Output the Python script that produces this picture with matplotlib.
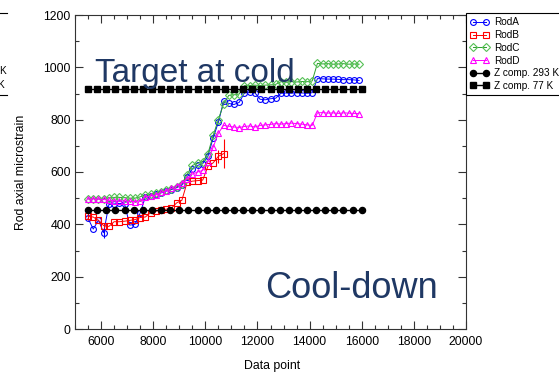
import matplotlib

matplotlib.use("Agg")
import matplotlib.pyplot as plt
from matplotlib.lines import Line2D
from matplotlib.ticker import MultipleLocator

plt.rcParams["font.family"] = ["Liberation Sans", "DejaVu Sans"]

# sample index shared by the four rods
data_x = [5500, 5700, 5900, 6100, 6300, 6500, 6700, 6900, 7100, 7300,
          7500, 7700, 7900, 8100, 8300, 8500, 8700, 8900, 9100, 9300,
          9500, 9700, 9900, 10100, 10300, 10500, 10700, 10900, 11100, 11300,
          11500, 11700, 11900, 12100, 12300, 12500, 12700, 12900, 13100, 13300,
          13500, 13700, 13900, 14100, 14300, 14500, 14700, 14900, 15100, 15300,
          15500, 15700, 15900]

rod_a = [423, 382, 416, 368, 476, 478, 480, 478, 397, 400,
         443, 505, 510, 516, 520, 527, 533, 540, 550, 580,
         612, 625, 632, 660, 730, 790, 870, 862, 858, 866,
         902, 905, 903, 878, 876, 880, 882, 901, 902, 901,
         903, 902, 901, 903, 957, 956, 955, 955, 954, 953,
         953, 952, 950]
rod_a_err = [0, 0, 0, 20, 0, 0, 0, 0, 0, 0,
             0, 0, 0, 0, 0, 0, 0, 0, 0, 0,
             0, 0, 0, 0, 0, 0, 0, 0, 0, 0,
             0, 0, 0, 0, 0, 0, 0, 0, 0, 0,
             0, 0, 0, 0, 0, 0, 0, 0, 0, 0,
             0, 0, 0]

# RodB stops reporting after ~10700
rod_b = [430, 428, 415, 395, 392, 410, 410, 412, 415, 418,
         426, 428, 445, 450, 455, 458, 462, 482, 492, 560,
         565, 567, 569, 622, 635, 660, 670]
rod_b_err = [12, 0, 0, 10, 0, 0, 0, 0, 0, 0,
             0, 0, 0, 0, 0, 0, 0, 0, 0, 0,
             0, 0, 0, 0, 0, 25, 55]

rod_c = [497, 498, 497, 498, 502, 503, 503, 502, 500, 500,
         505, 512, 515, 520, 525, 530, 535, 542, 555, 590,
         625, 633, 640, 670, 740, 800, 860, 893, 895, 898,
         930, 930, 932, 930, 932, 933, 935, 945, 943, 945,
         944, 946, 945, 948, 1015, 1013, 1014, 1012, 1013, 1014,
         1012, 1013, 1012]

rod_d = [497, 497, 496, 495, 492, 490, 489, 490, 488, 487,
         490, 505, 508, 512, 522, 528, 538, 548, 558, 575,
         592, 600, 606, 640, 695, 748, 778, 775, 772, 770,
         774, 776, 772, 778, 780, 782, 785, 783, 785, 787,
         785, 783, 780, 778, 826, 827, 825, 826, 824, 826,
         825, 824, 823]

# Z-component reference levels
z_x = [5500, 5850, 6200, 6550, 6900, 7250, 7600, 7950, 8300, 8650,
       9000, 9350, 9700, 10050, 10400, 10750, 11100, 11450, 11800, 12150,
       12500, 12850, 13200, 13550, 13900, 14250, 14600, 14950, 15300, 15650,
       16000]
z_293k = 455
z_77k = 917

navy = "#1f3864"

fig = plt.figure(figsize=(5.59, 3.72), dpi=100)
ax = fig.add_axes([75 / 559, 1 - 329 / 372, 391 / 559, 314 / 372])

mk = dict(markersize=4.2, markeredgewidth=0.8, fillstyle="none", linewidth=0.7)
ax.plot(data_x, rod_a, color="#0000ff", marker="o", label="RodA", **mk)
ax.plot(data_x[:len(rod_b)], rod_b, color="#ff0000", marker="s",
        label="RodB", **mk)
ax.plot(data_x, rod_c, color="#2ca02c", marker="D", markeredgecolor="#55c055",
        label="RodC", **dict(mk, markersize=3.8))
ax.plot(data_x, rod_d, color="#ff00ff", marker="^", label="RodD", **mk)

# error bars only where the readout flagged one
ax.errorbar(data_x, rod_a, yerr=rod_a_err, fmt="none", ecolor="#0000ff",
            elinewidth=0.8, capsize=0)
ax.errorbar(data_x[:len(rod_b)], rod_b, yerr=rod_b_err, fmt="none",
            ecolor="#ff0000", elinewidth=0.8, capsize=0)

ax.plot(z_x, [z_293k] * len(z_x), color="black", marker="o", markersize=4.4,
        linewidth=1.0, label="Z comp. 293 K")
ax.plot(z_x, [z_77k] * len(z_x), color="black", marker="s", markersize=4.2,
        linewidth=1.0, label="Z comp. 77 K")

ax.set_xlim(5000, 20000)
ax.set_ylim(0, 1200)
ax.xaxis.set_major_locator(MultipleLocator(2000))
ax.xaxis.set_minor_locator(MultipleLocator(500))
ax.yaxis.set_major_locator(MultipleLocator(200))
ax.yaxis.set_minor_locator(MultipleLocator(100))
ax.tick_params(which="both", direction="in", top=True, right=True,
               width=0.8, colors="#333333", labelcolor="black", labelsize=8.8)
ax.tick_params(which="major", length=6)
ax.tick_params(which="minor", length=3)
ax.tick_params(axis="y", pad=3)
ax.tick_params(axis="x", pad=5)
for s in ax.spines.values():
    s.set_linewidth(0.8)
    s.set_color("#333333")

ax.set_xlabel("Data point", fontsize=8.8)
ax.set_ylabel("Rod axial microstrain", fontsize=8.8)
ax.xaxis.set_label_coords(0.505, -0.098)
ax.yaxis.set_label_coords(-0.123, 0.5)

ax.text(5750, 945, "Target at cold", fontsize=24, color=navy,
        ha="left", va="baseline")
ax.text(12300, 118, "Cool-down", fontsize=26, color=navy,
        ha="left", va="baseline")

leg = ax.legend(loc="upper left", bbox_to_anchor=(1.0, 1.005), fontsize=7.2,
                numpoints=2, handlelength=1.9, handletextpad=0.5,
                borderaxespad=0, borderpad=0.4, labelspacing=0.27,
                fancybox=False, framealpha=1)
leg.get_frame().set_edgecolor("black")
leg.get_frame().set_linewidth(0.8)

# clipped tail of a second legend at the left margin
fig.text(6 / 559, 1 - 74 / 372, "K", fontsize=7.2, ha="right", va="baseline")
fig.text(4 / 559, 1 - 88 / 372, "K", fontsize=7.2, ha="right", va="baseline")
for yy in (13, 95):
    fig.add_artist(Line2D([0, 7 / 559], [1 - yy / 372] * 2, color="black",
                          linewidth=0.8, transform=fig.transFigure))

fig.savefig("out.png", dpi=100)
